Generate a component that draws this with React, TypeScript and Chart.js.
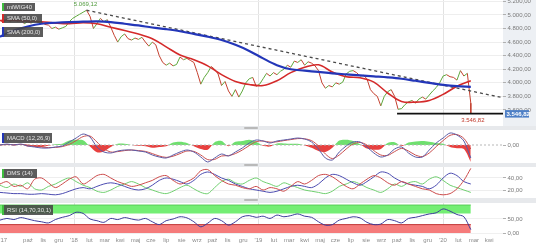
import React, { useEffect, useRef } from 'react';
import { Chart, registerables } from 'chart.js';

Chart.register(...registerables);

const FONT = '"Liberation Sans", Arial, Helvetica, sans-serif';

// ---------- time axis: weeks from the left edge of the chart ----------
const X_MAX = 145.3;
const JAN18_WEEK = 21.38;
const WEEKS_PER_MONTH = 4.4417;
const MONTH_OFFSETS = [-4.6, -3, -2, -1, 0, 1, 2, 3, 4, 5, 6, 7, 8, 9, 10, 11, 12, 13, 14, 15, 16, 17, 18, 19, 20, 21, 22, 23, 24, 25, 26, 27];
const MONTH_LABELS = ["'17", 'paź', 'lis', 'gru', "'18", 'lut', 'mar', 'kwi', 'maj', 'cze', 'lip', 'sie', 'wrz', 'paź', 'lis', 'gru', "'19", 'lut', 'mar', 'kwi', 'maj', 'cze', 'lip', 'sie', 'wrz', 'paź', 'lis', 'gru', "'20", 'lut', 'mar', 'kwi'];
const YEAR_TICK_INDEX = [4, 16, 28];
const TICK_WEEKS = MONTH_OFFSETS.map((m) => JAN18_WEEK + m * WEEKS_PER_MONTH);

// ---------- price panel (weekly closes) ----------
const PRICE = [
  4920, 4890, 4930, 4900, 4950, 4910, 4930, 4870, 4900, 4880,
  4920, 4890, 4900, 4860, 4850, 4800, 4820, 4790, 4810, 4830,
  4900, 4950, 4980, 5010, 5040, 5069, 4980, 4800, 4870, 4950,
  4900, 4930, 4820, 4700, 4600, 4680, 4720, 4650, 4630, 4660,
  4640, 4670, 4600, 4540, 4600, 4560, 4400, 4300, 4260, 4290,
  4250, 4270, 4380, 4340, 4360, 4330, 4300, 4150, 3980, 4080,
  4150, 4240, 4200, 4130, 3960, 4020, 3880, 3800, 3900, 3790,
  3880, 4000, 4060, 4080, 3950, 3980, 4060, 4140, 4100, 4150,
  4120, 4170, 4200, 4260, 4230, 4320, 4300, 4340, 4260, 4310,
  4290, 4250, 4180, 4000, 3920, 3960, 3940, 4000, 3980, 4010,
  4130, 4170, 4180, 4150, 4100, 4110, 4060, 3900, 3840, 3800,
  3660, 3800, 3870, 3900, 3800, 3610, 3620, 3680, 3720, 3740,
  3700, 3760, 3790, 3760, 3820, 3880, 3930, 4000, 4100, 4120,
  4090, 4080, 4040, 4180, 4100, 4140, 3700,
];
// SMA values every 4 weeks
const SMA50 = [
  4919, 4919, 4910, 4900, 4880, 4870, 4885, 4870, 4820, 4770,
  4720, 4650, 4530, 4410, 4340, 4250, 4120, 4020, 3975, 3960,
  4030, 4150, 4230, 4265, 4160, 4090, 4075, 4010, 3850, 3725,
  3715, 3740, 3830, 3950, 4030,
];
const SMA200 = [
  4680, 4770, 4830, 4870, 4885, 4895, 4900, 4905, 4895, 4870,
  4845, 4815, 4790, 4760, 4720, 4680, 4630, 4560, 4470, 4360,
  4260, 4200, 4180, 4160, 4140, 4125, 4110, 4095, 4080, 4060,
  4030, 4000, 3970, 3950, 3940,
];
const PEAK_WEEK = 25;
const PEAK_VALUE = 5069.12;
const SUPPORT_VALUE = 3546.82;
const SUPPORT_FROM_WEEK = 114.7;
const LAST_WEEK = 136;
const LAST_CLOSE = 3700;
const TREND_END_VALUE = 3780;
const PRICE_TICKS = [3600, 3800, 4000, 4200, 4400, 4600, 4800, 5000, 5200];

// ---------- indicators, every 2 weeks ----------
const MACD = [
  0, 5, 0, 5, -5, -10, -15, -15, -10, -5,
  15, 35, 55, 40, -10, -35, -40, -30, -25, -25,
  -30, -35, -50, -60, -65, -50, -35, -25, -35, -60,
  -85, -65, -45, -55, -35, -15, 10, 25, 20, 10,
  20, 25, 30, 35, 30, 15, -20, -65, -75, -35,
  -5, 15, 15, -10, -40, -60, -50, -20, -10, -40,
  -60, -60, -25, 10, 35, 60, 50, 20, -65,
];
const SIGNAL = [
  0, 2, 2, 3, 0, -5, -10, -13, -12, -8,
  3, 22, 42, 45, 15, -18, -35, -33, -28, -25,
  -28, -32, -43, -55, -62, -56, -43, -30, -32, -50,
  -73, -72, -55, -53, -43, -25, -3, 17, 20, 14,
  16, 22, 27, 32, 31, 22, -5, -45, -68, -50,
  -20, 5, 13, 0, -28, -50, -52, -33, -17, -30,
  -50, -58, -40, -8, 22, 48, 52, 33, -20,
];
const HIST = [
  0, 4, -3, 3, -8, -10, -10, -4, 4, 6,
  22, 26, 24, -8, -36, -32, -10, 6, 6, 0,
  -4, -6, -14, -10, -6, 12, 16, 10, -6, -20,
  -24, 14, 20, -6, 16, 20, 26, 16, -4, -8,
  8, 8, 6, 6, -2, -14, -30, -35, -14, 22,
  26, 20, 4, -18, -24, -20, 10, 14, -6, 12,
  18, 20, 16, 10, 6, -10, -16, -20, -85,
];
const DMS_RED = [
  30, 34, 26, 28, 22, 38, 40, 32, 24, 30,
  38, 42, 30, 36, 44, 46, 40, 34, 30, 26,
  28, 32, 36, 42, 44, 36, 30, 34, 40, 52,
  54, 44, 36, 30, 28, 24, 22, 26, 20, 24,
  22, 18, 26, 34, 30, 36, 44, 46, 42, 34,
  26, 22, 30, 38, 44, 40, 32, 28, 34, 30,
  26, 22, 20, 14, 12, 14, 22, 36, 56,
];
const DMS_BLUE = [
  16, 15, 14, 14, 13, 13, 14, 13, 12, 14,
  18, 22, 24, 22, 26, 30, 32, 30, 26, 22,
  20, 22, 28, 36, 40, 38, 34, 30, 36, 46,
  50, 46, 40, 36, 30, 26, 22, 20, 18, 16,
  18, 22, 26, 28, 26, 24, 30, 40, 46, 44,
  38, 32, 28, 34, 42, 50, 48, 40, 34, 30,
  28, 26, 22, 28, 40, 48, 44, 34, 30,
];
const DMS_GREEN = [
  28, 24, 30, 26, 32, 22, 20, 26, 30, 36,
  40, 34, 28, 24, 18, 16, 20, 26, 30, 34,
  30, 24, 20, 16, 14, 18, 24, 28, 22, 16,
  14, 24, 34, 38, 32, 30, 36, 40, 34, 30,
  26, 32, 28, 24, 20, 18, 16, 14, 18, 26,
  30, 34, 30, 24, 20, 16, 22, 30, 26, 32,
  34, 30, 38, 42, 36, 28, 24, 20, 16,
];
const RSI = [
  46, 52, 48, 55, 50, 44, 40, 36, 48, 56,
  62, 74, 70, 50, 44, 38, 52, 48, 55, 50,
  46, 52, 40, 30, 44, 50, 58, 54, 40, 22,
  35, 52, 44, 28, 40, 58, 62, 56, 60, 52,
  64, 58, 62, 68, 60, 56, 40, 28, 30, 46,
  52, 58, 54, 38, 30, 32, 48, 44, 36, 52,
  56, 62, 68, 72, 86, 78, 66, 58, 12,
];
const RSI_UPPER = 70;
const RSI_LOWER = 30;

// ---------- helpers ----------
const fmt = (v: number) => {
  const s = Math.abs(v).toFixed(2);
  const [a, b] = s.split('.');
  return (v < 0 ? '-' : '') + a.replace(/\B(?=(\d{3})+(?!\d))/g, '.') + ',' + b;
};
const series = (vals: number[], step: number) => vals.map((v, i) => ({ x: i * step, y: v }));
const flat = (value: number, from: number, to: number) => [{ x: from, y: value }, { x: to, y: value }];

const UP = '#5ea83c';
const DOWN = '#c4402f';

function xScale(showLabels: boolean) {
  return {
    type: 'linear',
    min: 0,
    max: X_MAX,
    afterBuildTicks: (s: any) => { s.ticks = TICK_WEEKS.map((v) => ({ value: v })); },
    afterFit: (s: any) => { s.height = showLabels ? 12 : 0; s.paddingLeft = 0; s.paddingRight = 0; },
    ticks: {
      display: showLabels, autoSkip: false, maxRotation: 0, minRotation: 0, padding: 3,
      color: '#8a8a8a', font: { size: 6, family: FONT },
      callback: (_v: any, i: number) => MONTH_LABELS[i],
    },
    grid: {
      drawTicks: false,
      color: (c: any) => (YEAR_TICK_INDEX.includes(c.index) ? '#e2e2e2' : 'rgba(0,0,0,0)'),
    },
    border: { display: false },
  };
}

function yScale(min: number, max: number, ticks: number[], gridColor: string) {
  return {
    type: 'linear',
    position: 'right',
    min, max,
    afterBuildTicks: (s: any) => { s.ticks = ticks.map((v) => ({ value: v })); },
    afterFit: (s: any) => { s.width = 33; s.paddingTop = 0; s.paddingBottom = 0; },
    ticks: { padding: 1.5, color: '#7a7a7a', font: { size: 6, family: FONT }, callback: (v: any) => fmt(Number(v)) },
    grid: { color: gridColor, tickLength: 3, tickColor: '#b0b0b0', drawTicks: true },
    border: { display: false },
  };
}

const baseOptions = (showX: boolean, y: any, plugins: any = {}) => ({
  animation: false,
  responsive: false,
  devicePixelRatio: 1,
  layout: { padding: 0 },
  events: [],
  plugins: { legend: { display: false }, tooltip: { enabled: false }, ...plugins },
  elements: { point: { radius: 0 }, line: { borderJoinStyle: 'round' } },
  scales: { x: xScale(showX), y },
});

const priceLabels = {
  id: 'priceLabels',
  afterDatasetsDraw(chart: any) {
    const { ctx } = chart;
    const x = chart.scales.x;
    const y = chart.scales.y;
    ctx.save();
    ctx.font = `6px ${FONT}`;
    ctx.textAlign = 'center';
    ctx.fillStyle = '#4f9a3c';
    ctx.textBaseline = 'bottom';
    ctx.fillText(fmt(PEAK_VALUE), x.getPixelForValue(PEAK_WEEK) - 1, y.getPixelForValue(PEAK_VALUE) - 3);
    ctx.fillStyle = '#c0392b';
    ctx.textBaseline = 'top';
    ctx.fillText(fmt(SUPPORT_VALUE), x.getPixelForValue(LAST_WEEK) + 2, y.getPixelForValue(SUPPORT_VALUE) + 4);
    ctx.restore();
  },
  afterDraw(chart: any) {
    const { ctx } = chart;
    const yy = chart.scales.y.getPixelForValue(SUPPORT_VALUE);
    const left = chart.chartArea.right + 2;
    ctx.save();
    ctx.fillStyle = '#4e7fc6';
    ctx.fillRect(left, yy - 3.5, 24, 7.5);
    ctx.fillStyle = '#ffffff';
    ctx.font = `bold 6px ${FONT}`;
    ctx.textAlign = 'left';
    ctx.textBaseline = 'middle';
    ctx.fillText(fmt(SUPPORT_VALUE), left + 1.5, yy + 0.5);
    ctx.restore();
  },
};

function priceConfig(): any {
  return {
    type: 'line',
    data: {
      datasets: [
        { data: flat(SUPPORT_VALUE, SUPPORT_FROM_WEEK, X_MAX), borderColor: '#111', borderWidth: 1.6 },
        { data: series(SMA200, 4), borderColor: '#2336b8', borderWidth: 2.2, tension: 0.35 },
        { data: series(SMA50, 4), borderColor: '#d42a2a', borderWidth: 1.6, tension: 0.35 },
        { data: [{ x: PEAK_WEEK, y: PEAK_VALUE }, { x: X_MAX, y: TREND_END_VALUE }], borderColor: '#4a4a4a', borderWidth: 1.3, borderDash: [3, 3] },
        { data: [{ x: LAST_WEEK, y: LAST_CLOSE }, { x: LAST_WEEK, y: SUPPORT_VALUE }], borderColor: DOWN, borderWidth: 1 },
        {
          data: series(PRICE, 1), borderWidth: 1, borderColor: UP,
          segment: { borderColor: (c: any) => (c.p1.parsed.y >= c.p0.parsed.y ? UP : DOWN) },
        },
      ],
    },
    options: baseOptions(false, yScale(3364, 5220, PRICE_TICKS, '#eeeeee')),
    plugins: [priceLabels],
  };
}

function macdConfig(): any {
  return {
    type: 'line',
    data: {
      datasets: [
        { data: series(MACD, 2), borderColor: '#5b5ba6', borderWidth: 1, tension: 0.3 },
        { data: series(SIGNAL, 2), borderColor: '#c94f4f', borderWidth: 1, tension: 0.3 },
        { data: flat(0, 0, X_MAX), borderColor: '#b8b8b8', borderWidth: 1, borderDash: [2, 2] },
        {
          data: series(HIST, 2), borderWidth: 0, borderColor: 'rgba(0,0,0,0)', tension: 0.3,
          fill: { target: { value: 0 }, above: '#6fe06f', below: '#e8403f' },
        },
      ],
    },
    options: baseOptions(false, yScale(-90, 75, [0], 'rgba(0,0,0,0)')),
  };
}

function dmsConfig(): any {
  return {
    type: 'line',
    data: {
      datasets: [
        { data: series(DMS_RED, 2), borderColor: '#cc4b4b', borderWidth: 1, tension: 0.3 },
        { data: series(DMS_BLUE, 2), borderColor: '#4b4bb0', borderWidth: 1, tension: 0.3 },
        { data: series(DMS_GREEN, 2), borderColor: '#6fcf6f', borderWidth: 1, tension: 0.3 },
      ],
    },
    options: baseOptions(false, yScale(6.7, 58.3, [20, 40], '#eeeeee')),
  };
}

function rsiConfig(): any {
  return {
    type: 'line',
    data: {
      datasets: [
        { data: series(RSI, 2), borderColor: '#3b3b9b', borderWidth: 1, tension: 0.3 },
        { data: flat(100, 0, LAST_WEEK), borderColor: '#49c449', borderWidth: 0.8 },
        { data: flat(RSI_UPPER, 0, LAST_WEEK), borderColor: 'rgba(0,0,0,0)', borderWidth: 0, fill: '-1', backgroundColor: '#74ee74' },
        { data: flat(RSI_LOWER, 0, LAST_WEEK), borderColor: '#c23b3b', borderWidth: 1, fill: { value: 0 }, backgroundColor: '#f57b7b' },
      ],
    },
    options: baseOptions(true, yScale(-3.57, 107.1, [0, 50], '#f0f0f0')),
  };
}

const Tag = ({ left, top, w, h, color, text }: { left: number; top: number; w: number; h: number; color: string; text: string }) => (
  <div
    style={{
      position: 'absolute', left, top, width: w, height: h, boxSizing: 'border-box',
      background: 'rgba(70,70,70,0.88)', borderLeft: `2px solid ${color}`, color: '#e6e6e6',
      fontSize: 6, lineHeight: `${h}px`, paddingLeft: 3, whiteSpace: 'nowrap', fontFamily: FONT, overflow: 'hidden',
    }}
  >
    {text}
  </div>
);

const Sep = ({ top, h }: { top: number; h: number }) => (
  <div style={{ position: 'absolute', left: 0, top, width: 536, height: h, background: '#e7e9ec' }}>
    <div style={{ position: 'absolute', left: 244, top: Math.floor(h / 2) - 1, width: 14, height: 2, background: '#b9b9b9', borderRadius: 1 }} />
  </div>
);

export default function App() {
  const priceRef = useRef<HTMLCanvasElement>(null);
  const macdRef = useRef<HTMLCanvasElement>(null);
  const dmsRef = useRef<HTMLCanvasElement>(null);
  const rsiRef = useRef<HTMLCanvasElement>(null);

  useEffect(() => {
    document.body.style.margin = '0';
    const charts = [
      new Chart(priceRef.current as HTMLCanvasElement, priceConfig()),
      new Chart(macdRef.current as HTMLCanvasElement, macdConfig()),
      new Chart(dmsRef.current as HTMLCanvasElement, dmsConfig()),
      new Chart(rsiRef.current as HTMLCanvasElement, rsiConfig()),
    ];
    return () => charts.forEach((c) => c.destroy());
  }, []);

  const cv = (top: number, h: number) => ({ position: 'absolute' as const, left: 0, top, width: 536, height: h });

  return (
    <div style={{ position: 'relative', width: 536, height: 246, background: '#fff', overflow: 'hidden', fontFamily: FONT }}>
      <div style={{ position: 'absolute', left: 503, top: 0, width: 33, height: 126, background: '#edf0f4' }} />
      <Sep top={126} h={4} />
      <Sep top={163} h={4} />
      <Sep top={198} h={5} />
      <canvas ref={priceRef} width={536} height={126} style={cv(0, 126)} />
      <canvas ref={macdRef} width={536} height={33} style={cv(130, 33)} />
      <canvas ref={dmsRef} width={536} height={31} style={cv(167, 31)} />
      <canvas ref={rsiRef} width={536} height={43} style={cv(203, 43)} />
      <Tag left={2} top={3} w={33} h={8} color="#3fbf3f" text="miWIG40" />
      <Tag left={2} top={14} w={40} h={9} color="#d42a2a" text="SMA (50,0)" />
      <Tag left={2} top={27} w={41} h={10} color="#2336b8" text="SMA (200,0)" />
      <Tag left={2} top={133} w={50} h={10} color="#2336b8" text="MACD (12,26,9)" />
      <Tag left={2} top={169} w={35} h={9} color="#3fbf3f" text="DMS (14)" />
      <Tag left={2} top={205} w={51} h={10} color="#3fbf3f" text="RSI (14,70,30,1)" />
    </div>
  );
}
